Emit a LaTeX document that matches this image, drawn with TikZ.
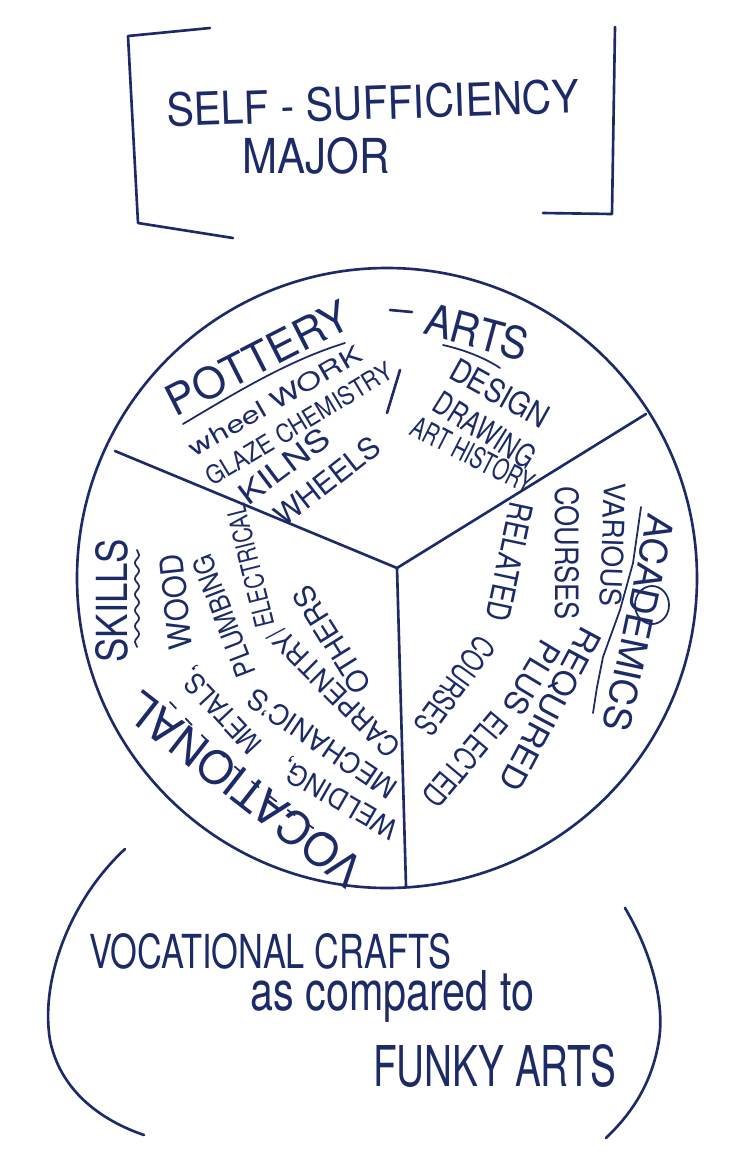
\documentclass[tikz,border=0pt]{standalone}
\usepackage{fontspec}
\setmainfont{TeX Gyre Heros}
\usepackage{graphicx}
\usetikzlibrary{decorations.pathmorphing}
\definecolor{ink}{RGB}{28,42,104}
\newlength{\pxu}\setlength{\pxu}{0.02cm}
% hand lettering: text squeezed to a width and cap height given in px
\newcommand{\hand}[3]{\resizebox{#1\pxu}{#2\pxu}{#3}}

\begin{document}
\begin{tikzpicture}[
  x=0.02cm, y=-0.02cm,
  pen/.style={draw=ink, line width=1.5pt, line cap=round, line join=round},
  thinpen/.style={pen, line width=1pt},
  word/.style={inner sep=0pt, text=ink}
]
\useasboundingbox (0,0) rectangle (752,1154);

% title in brackets
\draw[pen] (210,28) -- (128,36) -- (138,223) -- (233,238);
\draw[pen] (615,27) -- (612,214) -- (543,213);
\node[word, rotate=2] (title) at (373,103) {\hand{413}{34}{SELF - SUFFICIENCY}};
\node[word] (major) at (316,156) {\hand{147}{36}{MAJOR}};

% pie
\draw[pen] (387,578) circle[radius=310];
\coordinate (hub) at (397,568);
\coordinate (rimL) at (115,451);
\coordinate (rimR) at (646,414);
\coordinate (rimB) at (406,886);
\draw[pen] (rimL) -- (hub) -- (rimR);
\draw[pen] (hub) -- (rimB);

% pottery - arts
\node[word, rotate=27] (pottery) at (258,358) {\hand{200}{32}{POTTERY}};
\draw[pen] (390,310) -- (412,312);
\node[word, rotate=-15] (arts) at (477,332) {\hand{105}{33}{ARTS}};
\draw[thinpen] (183,424) .. controls (240,390) and (290,360) .. (345,343);
\draw[thinpen] (443,345) .. controls (465,350) and (485,358) .. (500,368);
\node[word, rotate=30] (wheelwork) at (275,401) {\hand{195}{18}{wheel WORK}};
\node[word, rotate=31] (glaze) at (299,424) {\hand{213}{19}{GLAZE CHEMISTRY}};
\draw[pen] (400,370) -- (387,413);
\node[word, rotate=37] (kilns) at (284,466) {\hand{105}{22}{KILNS}};
\node[word, rotate=38] (wheels) at (327,481) {\hand{125}{22}{WHEELS}};
\node[word, rotate=-29] (design) at (500,393) {\hand{108}{24}{DESIGN}};
\node[word, rotate=-32] (drawing) at (485,430) {\hand{113}{24}{DRAWING}};
\node[word, rotate=-27] (arthistory) at (473,455) {\hand{133}{22}{ART HISTORY}};

% academics
\node[word, rotate=-102] (academics) at (639,623) {\hand{220}{28}{ACADEMICS}};
\draw[thinpen] (641,507) -- (633,563) -- (620,610) -- (603,657) -- (597,687) -- (593,713);
\draw[thinpen] (652,605) ellipse[x radius=17, y radius=19];
\node[word, rotate=-92] (various) at (613,545) {\hand{124}{22}{VARIOUS}};
\node[word, rotate=-90] (courses) at (567,553) {\hand{134}{24}{COURSES}};
\node[word, rotate=-118] (required) at (550,709) {\hand{180}{24}{REQUIRED}};
\node[word, rotate=-102] (related) at (510,562) {\hand{120}{24}{RELATED}};
\node[word, rotate=-121] (plus) at (532,678) {\hand{80}{24}{PLUS}};
\node[word, rotate=-130] (elected) at (465,760) {\hand{112}{24}{ELECTED}};
\node[word, rotate=-126] (coursesb) at (455,686) {\hand{112}{24}{COURSES}};

% vocational skills
\node[word, rotate=90] (skills) at (112,601) {\hand{123}{32}{SKILLS}};
\draw[thinpen, decorate, decoration={snake, amplitude=1.2pt, segment length=9pt}] (137,550) -- (137,647);
\node[word, rotate=142] (vocational) at (245,790) {\hand{285}{34}{VOCATIONAL}};
\draw[thinpen, dash pattern=on 5pt off 8pt] (170,702) .. controls (215,750) and (265,800) .. (343,847);
\node[word, rotate=150] (welding) at (340,798) {\hand{130}{21}{WELDING,}};
\node[word, rotate=133] (metals) at (222,710) {\hand{105}{21}{METALS,}};
\node[word, rotate=96] (wood) at (176,602) {\hand{95}{24}{WOOD}};
\node[word, rotate=146] (mechanic) at (322,744) {\hand{173}{21}{MECHANIC'S}};
\node[word, rotate=111] (plumbing) at (224,616) {\hand{128}{21}{PLUMBING}};
\node[word, rotate=135] (carpentry) at (334,692) {\hand{172}{21}{CARPENTRY/}};
\node[word, rotate=104] (electrical) at (250,566) {\hand{125}{20}{ELECTRICAL}};
\node[word, rotate=122] (others) at (332,640) {\hand{120}{22}{OTHERS}};

% bottom bubble
\draw[pen] (125,849) .. controls (70,900) and (40,980) .. (50,1040) .. controls (60,1090) and (100,1120) .. (144,1135);
\draw[pen] (625,908) .. controls (650,950) and (665,1000) .. (659,1040) .. controls (652,1085) and (630,1115) .. (606,1138);
\node[word, anchor=base west] (crafts) at (89,968) {\hand{362}{35}{VOCATIONAL CRAFTS}};
\node[word, anchor=base west] (compared) at (250,1010) {\hand{284}{40}{as compared to}};
\node[word, anchor=base west] (funky) at (373,1086) {\hand{243}{42}{FUNKY ARTS}};
\end{tikzpicture}
\end{document}
